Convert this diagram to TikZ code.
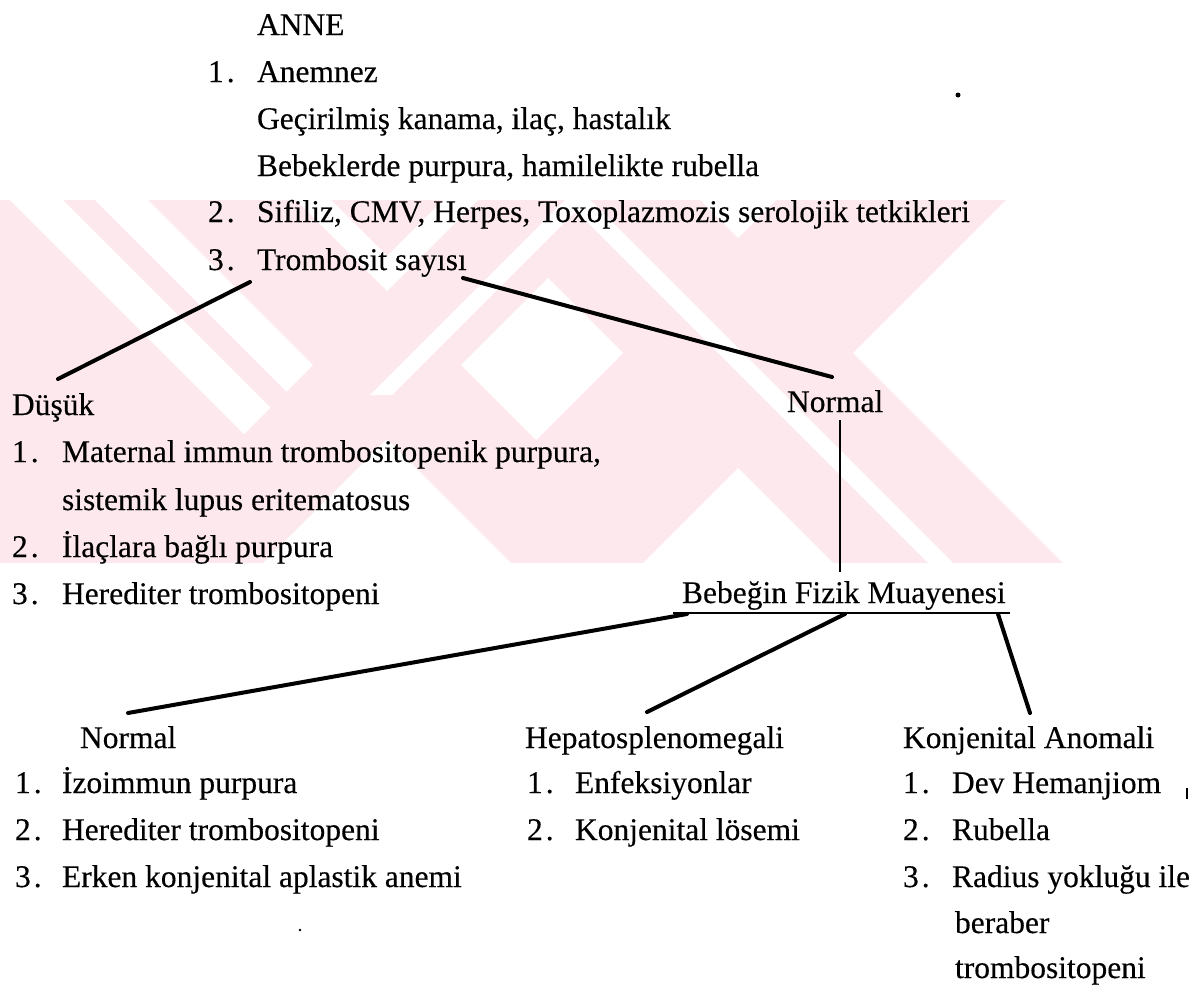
\documentclass[tikz,border=0pt]{standalone}
\usepackage{fontspec}
\setmainfont[FakeBold=0.3]{Liberation Serif}
\definecolor{wmpink}{RGB}{253,233,237}
\begin{document}
\begin{tikzpicture}[x=1pt,y=-1pt,
  lbl/.style={anchor=base west,inner sep=0pt,outer sep=0pt,font=\fontsize{31.5}{36}\selectfont},
  branch/.style={line width=4pt,line cap=round},
  stem/.style={line width=2.6pt},
  gap/.style={fill=white}]
\useasboundingbox (0,0) rectangle (1204,993);

% background stamp: a pink band cut by white diagonal gaps
\begin{scope}
  \clip (0,200) rectangle (1204,563);
  \fill[wmpink] (0,200) rectangle (1204,563);
  % parallel gaps on the upper left
  \fill[gap] (10,200) -- (63,200) -- (270.5,407.5) -- (244,434) -- cycle;
  \fill[gap] (95,200) -- (148,200) -- (313,365) -- (286.5,391.5) -- cycle;
  % chevron gap above the left cross
  \fill[gap] (296,200) -- (331,200) -- (387,256) -- (443,200) -- (478,200) -- (387,291) -- cycle;
  % notch below the left cross
  \fill[gap] (387,439) -- (511,563) -- (263,563) -- cycle;
  % diamond between the two crosses
  \fill[gap] (461,365) -- (548,278) -- (623,353) -- (536,440) -- cycle;
  % notches of the right cross
  \fill[gap] (700,200) -- (776,200) -- (738,238) -- cycle;
  \fill[gap] (738,468) -- (833,563) -- (643,563) -- cycle;
  \fill[gap] (853,353) -- (1006,200) -- (1204,200) -- (1204,563) -- (1063,563) -- cycle;
  % thin gaps inside the arms
  \fill[gap] (565,200) -- (587,200) -- (392,395) -- (370,395) -- cycle;
  \fill[gap] (565,200) -- (590,200) -- (953,563) -- (928,563) -- cycle;
\end{scope}

% mother
\node[lbl] (anne) at (257,35) {ANNE};
\node[lbl] (n1) at (208,82) {1\kern3pt.};
\node[lbl] (anam) at (257,82) {Anemnez};
\node[lbl] (gec) at (257,129) {Geçirilmiş kanama, ilaç, hastalık};
\node[lbl] (beb) at (257,176) {Bebeklerde purpura, hamilelikte rubella};
\node[lbl] (n2) at (208,222) {2\kern3pt.};
\node[lbl] (sif) at (257,222) {Sifiliz, CMV, Herpes, Toxoplazmozis serolojik tetkikleri};
\node[lbl] (n3) at (208,270) {3\kern3pt.};
\node[lbl] (trom) at (257,270) {Trombosit sayısı};

% low count
\node[lbl] (dus) at (12,415) {Düşük};
\node[lbl] (d1n) at (12,462) {1\kern3pt.};
\node[lbl] (d1) at (62,462) {Maternal immun trombositopenik purpura,};
\node[lbl] (d1b) at (62,510) {sistemik lupus eritematosus};
\node[lbl] (d2n) at (12,557) {2\kern3pt.};
\node[lbl] (d2) at (62,557) {İlaçlara bağlı purpura};
\node[lbl] (d3n) at (12,604) {3\kern3pt.};
\node[lbl] (d3) at (62,604) {Herediter trombositopeni};

% normal count
\node[lbl] (nor) at (787,412) {Normal};
\node[lbl] (beb2) at (682,603) {Bebeğin Fizik Muayenesi};

% physical examination branches
\node[lbl] (bn) at (80,748) {Normal};
\node[lbl] (bn1n) at (15,793) {1\kern3pt.};
\node[lbl] (bn1) at (62,793) {İzoimmun purpura};
\node[lbl] (bn2n) at (15,840) {2\kern3pt.};
\node[lbl] (bn2) at (62,840) {Herediter trombositopeni};
\node[lbl] (bn3n) at (15,887) {3\kern3pt.};
\node[lbl] (bn3) at (62,887) {Erken konjenital aplastik anemi};

\node[lbl] (hep) at (525,748) {Hepatosplenomegali};
\node[lbl] (h1n) at (527,793) {1\kern3pt.};
\node[lbl] (h1) at (575,793) {Enfeksiyonlar};
\node[lbl] (h2n) at (527,840) {2\kern3pt.};
\node[lbl] (h2) at (575,840) {Konjenital lösemi};

\node[lbl] (kon) at (903,748) {Konjenital Anomali};
\node[lbl] (k1n) at (903,793) {1\kern3pt.};
\node[lbl] (k1) at (952,793) {Dev Hemanjiom};
\node[lbl] (k2n) at (903,840) {2\kern3pt.};
\node[lbl] (k2) at (952,840) {Rubella};
\node[lbl] (k3n) at (903,887) {3\kern3pt.};
\node[lbl] (k3) at (952,887) {Radius yokluğu ile};
\node[lbl] (k3b) at (955,933) {beraber};
\node[lbl] (k3c) at (955,978) {trombositopeni};

% connector end points
\coordinate (tromL) at (250,282);
\coordinate (dusT) at (58,379);
\coordinate (tromR) at (463,278);
\coordinate (norT) at (832,377);
\coordinate (norB) at (840,420);
\coordinate (bebT) at (840,572);
\coordinate (ulL) at (673,613);
\coordinate (ulR) at (1010,613);
\coordinate (ulA) at (687,614);
\coordinate (ulB) at (845,614);
\coordinate (ulC) at (998,614);
\coordinate (bnT) at (128,713);
\coordinate (hepT) at (647,712);
\coordinate (konT) at (1030,713);

\draw[branch] (tromL) -- (dusT);
\draw[branch] (tromR) -- (norT);
\draw[stem] (norB) -- (bebT);
\draw[stem] (ulL) -- (ulR);
\draw[branch] (ulA) -- (bnT);
\draw[branch] (ulB) -- (hepT);
\draw[branch] (ulC) -- (konT);

% specks
\fill (958,95) circle (2.5);
\fill (300,930) circle (1.3);
\draw[line width=1.5pt] (1187,788) -- (1187,799);
\end{tikzpicture}
\end{document}
